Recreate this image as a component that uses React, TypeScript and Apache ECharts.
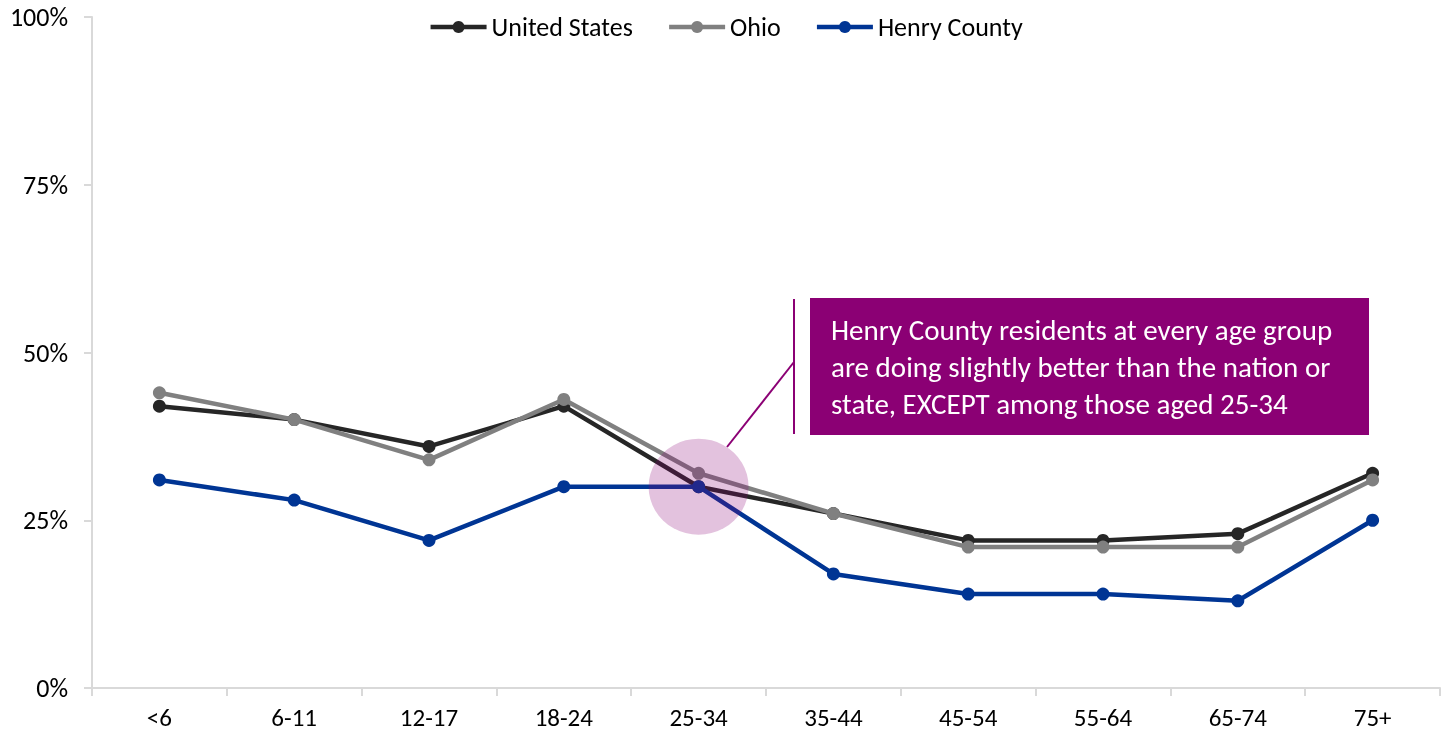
import React, { useEffect, useRef } from "react";
import * as echarts from "echarts";

const categories = ["<6", "6-11", "12-17", "18-24", "25-34", "35-44", "45-54", "55-64", "65-74", "75+"];
const unitedStates = [42, 40, 36, 42, 30, 26, 22, 22, 23, 32];
const ohio = [44, 40, 34, 43, 32, 26, 21, 21, 21, 31];
const henryCounty = [31, 28, 22, 30, 30, 17, 14, 14, 13, 25];
const highlight = [["25-34", 30]];
const yTicks = [0, 25, 50, 75, 100];
const noteLines = [
  "Henry County residents at every age group",
  "are doing slightly better than the nation or",
  "state, EXCEPT among those aged 25-34",
];

const FONT = "Carlito, 'Open Sans', 'Noto Sans', sans-serif";
const PURPLE = "#8B0074";

export default function App() {
  const ref = useRef<HTMLDivElement>(null);
  useEffect(() => {
    const chart = echarts.init(ref.current!, null, { renderer: "svg" });
    const lineSeries = (name: string, data: number[], color: string, z: number) => ({
      name,
      type: "line",
      data,
      color,
      z,
      symbol: "circle",
      symbolSize: 13,
      lineStyle: { width: 4.5, color },
      itemStyle: { color },
    });
    chart.setOption({
      animation: false,
      textStyle: { fontFamily: FONT },
      grid: { left: 92, right: 11, top: 17, bottom: 47, containLabel: false },
      legend: {
        data: ["United States", "Ohio", "Henry County"],
        top: 9,
        left: "center",
        itemWidth: 56,
        itemHeight: 15,
        itemGap: 34,
        lineStyle: { width: 4.5 },
        textStyle: { fontSize: 26, color: "#000", fontFamily: FONT },
      },
      xAxis: {
        type: "category",
        data: categories,
        boundaryGap: true,
        axisLine: { lineStyle: { color: "#d9d9d9", width: 2 } },
        axisTick: { show: true, length: 8, lineStyle: { color: "#d9d9d9", width: 2 } },
        axisLabel: { fontSize: 25, color: "#000", margin: 17, fontFamily: FONT },
      },
      yAxis: {
        type: "value",
        min: yTicks[0],
        max: yTicks[yTicks.length - 1],
        interval: 25,
        axisLine: { show: true, lineStyle: { color: "#d9d9d9", width: 2 } },
        axisTick: { show: true, length: 8, lineStyle: { color: "#d9d9d9", width: 2 } },
        splitLine: { show: false },
        axisLabel: { fontSize: 26, color: "#000", margin: 24, formatter: "{value}%", fontFamily: FONT },
      },
      series: [
        lineSeries("United States", unitedStates, "#262626", 3),
        lineSeries("Ohio", ohio, "#808080", 4),
        lineSeries("Henry County", henryCounty, "#003594", 5),
        {
          name: "highlight",
          type: "scatter",
          data: highlight,
          symbol: "circle",
          symbolSize: [100, 96],
          itemStyle: { color: "rgba(139,0,116,0.3)" },
          z: 10,
          silent: true,
        },
      ],
      graphic: [
        { type: "line", shape: { x1: 794, y1: 299, x2: 794, y2: 434 }, style: { stroke: PURPLE, lineWidth: 2 }, z: 20 },
        { type: "line", shape: { x1: 794, y1: 362, x2: 727, y2: 447 }, style: { stroke: PURPLE, lineWidth: 2 }, z: 20 },
        { type: "rect", shape: { x: 810, y: 298, width: 559, height: 137 }, style: { fill: PURPLE }, z: 20 },
        ...noteLines.map((t, i) => ({
          type: "text",
          x: 831,
          y: 330 + i * 37,
          style: { text: t, fill: "#fff", fontSize: 29, fontFamily: FONT, textVerticalAlign: "middle", textAlign: "left" },
          z: 21,
        })),
      ],
    });
    return () => chart.dispose();
  }, []);
  return <div ref={ref} style={{ position: "fixed", left: 0, top: 0, width: 1451, height: 735 }} />;
}
